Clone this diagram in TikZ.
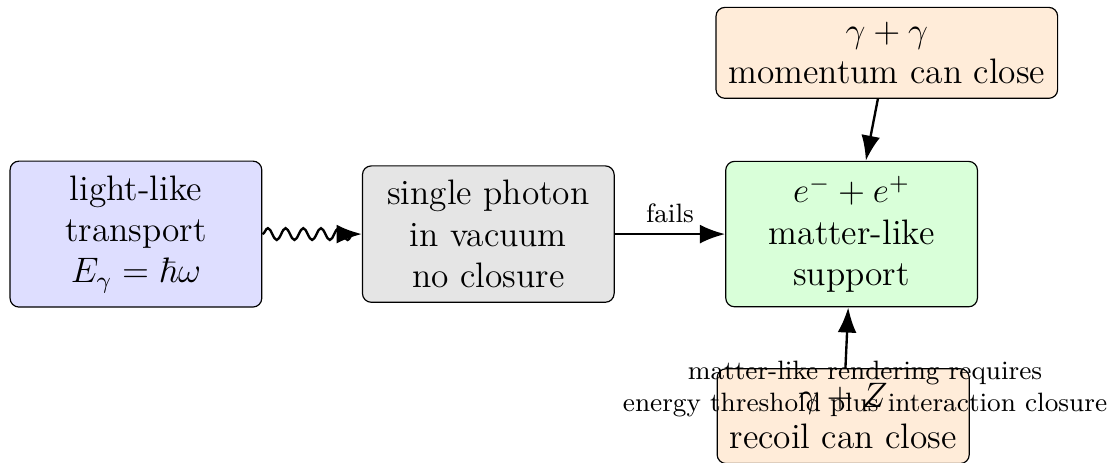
\documentclass[tikz,border=0pt]{standalone}
\usepackage{amsmath,amssymb}
\usepackage{tikz}
\usetikzlibrary{arrows.meta}
\usetikzlibrary{decorations.pathmorphing}
\tikzset{stage/.style={draw, rounded corners=3pt, align=center, minimum width=3cm, inner xsep=4.2pt, inner ysep=4.9pt, font=\large}}
\tikzset{flow/.style={thick, -{Latex[length=3mm]}}}
\tikzset{wave/.style={flow, decorate, decoration={snake, amplitude=2pt, segment length=6pt}}}
\newcommand{\stagebox}[5]{\node[stage, fill=#4] (#1) at ( #2 , #3 ) {#5};}

\begin{document}
\begin{tikzpicture}
        \useasboundingbox (-1.62,-2.72) rectangle (11.61,2.79);
        % middle row
        \stagebox{light}{0}{0}{blue!13}{light-like\\transport\\$E_\gamma=\hbar\omega$}
        \stagebox{photon}{4.20}{0}{gray!20}{single photon\\in vacuum\\no closure}
        \stagebox{pair}{8.53}{0}{green!15}{$e^-+e^+$\\matter-like\\support}
        % partners
        \stagebox{twogamma}{8.95}{2.16}{orange!15}{$\gamma+\gamma$\\momentum can close}
        \stagebox{nucleus}{8.43}{-2.17}{orange!15}{$\gamma+Z$\\recoil can close}
        % arrows
        \draw[wave] (light) -- (photon);
        \draw[flow] (photon) -- node[above, font=\small] {fails} (pair);
        \draw[flow] (twogamma) -- (pair);
        \draw[flow] (nucleus) -- (pair);
        \node[font=\small, align=center] (note) at (8.69,-1.85) {matter-like rendering requires\\energy threshold plus interaction closure};
\end{tikzpicture}
\end{document}
